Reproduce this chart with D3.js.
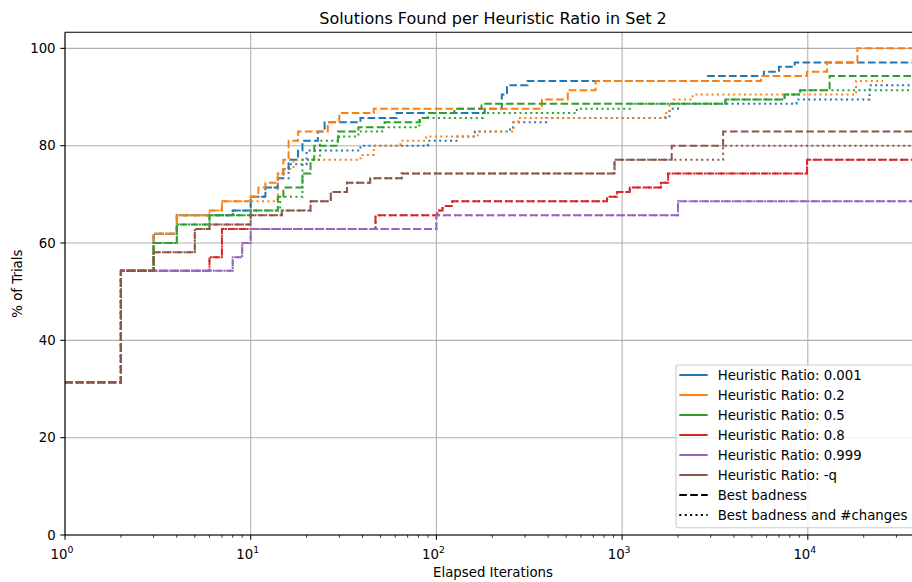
<!DOCTYPE html>
<html>
<head>
<meta charset="utf-8">
<script src="https://cdn.jsdelivr.net/npm/d3@7"></script>
<style>
  html, body { margin: 0; padding: 0; background: #fff; }
  svg { display: block; font-family: "DejaVu Sans", sans-serif; }
</style>
</head>
<body>
<svg id="chart" width="912" height="582"></svg>
<script>
// Heuristic ratios and their colours
const ratioLabels = ["0.001", "0.2", "0.5", "0.8", "0.999", "-q"];
const ratioColors = ["#1f77b4", "#ff7f0e", "#2ca02c", "#d62728", "#9467bd", "#8c564b"];

// Cumulative % of trials solved vs elapsed iterations: [iteration, percent].
// The last entry of each run is where its trace ends.
// "Best badness" runs
const badness_0001 = [[1,31.4],[2,54.3],[3,61.9],[4,65.7],[8,66.7],[10,69.5],[12,71.4],[14,73.3],[15,75.2],[16,77.1],[18,79.0],[19,81.0],[23,82.9],[25,84.8],[39,85.7],[61,86.7],[182,87.6],[225,90.5],[240,92.4],[310,93.3],[2900,94.3],[5800,95.2],[7000,96.2],[8500,97.1],[40700,97.1]];
const badness_02   = [[1,31.4],[2,54.3],[3,61.9],[4,65.7],[6,66.7],[7,68.6],[10,69.5],[11,71.4],[12,72.4],[14,74.3],[15,77.1],[16,81.0],[18,82.9],[26,84.8],[30,86.7],[46,87.6],[370,89.5],[510,91.4],[720,93.3],[5600,94.3],[9900,95.2],[12700,97.1],[18500,100],[40700,100]];
const badness_05   = [[1,31.4],[2,54.3],[3,60.0],[4,63.8],[6,65.7],[10,66.7],[14,69.5],[15,71.4],[19,74.3],[21,77.1],[22,80.0],[29.5,82.9],[38,83.8],[52.6,84.8],[81.5,85.7],[90,86.7],[125,87.6],[175,88.6],[3600,89.5],[7500,90.5],[9100,91.4],[13100,94.3],[40700,94.3]];
const badness_08   = [[1,31.4],[2,54.3],[6,57.1],[7,62.9],[47,65.7],[101,66.7],[108,67.6],[122,68.6],[830,69.5],[940,70.5],[1100,71.4],[1620,72.4],[1770,74.3],[9900,77.1],[40700,77.1]];
const badness_0999 = [[1,31.4],[2,54.3],[8,57.1],[9,60.0],[10,62.9],[100,65.7],[2000,68.6],[40700,68.6]];
const badness_q    = [[1,31.4],[2,54.3],[3,58.1],[5,62.9],[6,63.8],[10,65.7],[14.7,66.7],[21,68.6],[27,70.5],[33,72.4],[44,73.3],[65,74.3],[910,77.1],[1850,80.0],[3500,82.9],[40700,82.9]];

// "Best badness and #changes" runs
const changes_0001 = [[1,31.4],[2,54.3],[3,61.9],[4,65.7],[8,66.7],[10,69.5],[12,71.4],[14,73.3],[16,76.2],[20,79.0],[39,80.0],[90,81.0],[130,81.9],[161,82.9],[249,83.8],[260,84.8],[390,85.7],[1800,87.6],[2000,88.6],[8700,89.5],[21500,92.4],[40700,92.4]];
const changes_02   = [[1,31.4],[2,54.3],[3,61.9],[4,65.7],[6,66.7],[7,68.6],[14,74.3],[15,75.2],[17,77.1],[39,78.1],[46,80.0],[64,81.0],[88,81.9],[167,82.9],[260,84.8],[275,85.7],[1700,86.7],[1800,88.6],[1900,89.5],[2400,90.5],[18200,93.3],[25400,93.3]];
const changes_05   = [[1,31.4],[2,54.3],[3,60.0],[4,63.8],[6,65.7],[10,66.7],[14.4,69.5],[19,77.1],[23.6,81.0],[30,81.9],[38,82.9],[51,83.8],[81,85.7],[178,86.7],[570,87.6],[1100,88.6],[3600,89.5],[7500,90.5],[9100,91.4],[40700,91.4]];
const changes_08   = [[1,31.4],[2,54.3],[6,57.1],[7,62.9],[47,65.7],[101,66.7],[108,67.6],[122,68.6],[830,69.5],[940,70.5],[1100,71.4],[1620,72.4],[1770,74.3],[9900,77.1],[40700,77.1]];
const changes_0999 = [[1,31.4],[2,54.3],[8,57.1],[9,60.0],[10,62.9],[100,65.7],[2000,68.6],[40700,68.6]];
const changes_q    = [[1,31.4],[2,54.3],[3,58.1],[5,62.9],[6,63.8],[10,65.7],[14.7,66.7],[21,68.6],[27,70.5],[33,72.4],[44,73.3],[65,74.3],[910,77.1],[3500,80.0],[40700,80.0]];

const badnessRuns = [badness_0001, badness_02, badness_05, badness_08, badness_0999, badness_q];
const changesRuns = [changes_0001, changes_02, changes_05, changes_08, changes_0999, changes_q];

// Axis ticks
const yTicks = [0, 20, 40, 60, 80, 100];
const xTicks = [1, 10, 100, 1000, 10000];
const xTickExponents = ["0", "1", "2", "3", "4"];

const xMaxIter = 40700;
const yMaxPct = 103.3;

// Layout
const svg = d3.select("#chart");
const plot = { left: 65, right: 921, top: 32.3, bottom: 535 };

const x = d3.scaleLog().domain([1, xMaxIter]).range([plot.left, plot.right]);
const y = d3.scaleLinear().domain([0, yMaxPct]).range([plot.bottom, plot.top]);

svg.append("rect").attr("width", 912).attr("height", 582).attr("fill", "#fff");

svg.append("defs").append("clipPath").attr("id", "plotClip")
  .append("rect")
  .attr("x", plot.left).attr("y", plot.top)
  .attr("width", plot.right - plot.left).attr("height", plot.bottom - plot.top);

// Grid
const grid = svg.append("g").attr("stroke", "#b0b0b0").attr("stroke-width", 1.07);
xTicks.forEach(t => {
  grid.append("line").attr("x1", x(t)).attr("x2", x(t)).attr("y1", plot.top).attr("y2", plot.bottom);
});
yTicks.forEach(t => {
  grid.append("line").attr("x1", plot.left).attr("x2", plot.right).attr("y1", y(t)).attr("y2", y(t));
});

// Step lines
const line = d3.line().x(d => x(d[0])).y(d => y(d[1])).curve(d3.curveStepAfter);

const lines = svg.append("g").attr("clip-path", "url(#plotClip)").attr("fill", "none");
const DASH = "7.6,3.3";
const DOT = "2,3.4";
ratioLabels.forEach((r, i) => {
  lines.append("path").attr("d", line(badnessRuns[i]))
    .attr("stroke", ratioColors[i]).attr("stroke-width", 2).attr("stroke-dasharray", DASH);
  lines.append("path").attr("d", line(changesRuns[i]))
    .attr("stroke", ratioColors[i]).attr("stroke-width", 2).attr("stroke-dasharray", DOT);
});

// Spines
const spines = svg.append("g").attr("stroke", "#000").attr("stroke-width", 1.07);
spines.append("line").attr("x1", plot.left).attr("x2", plot.left).attr("y1", plot.top).attr("y2", plot.bottom);
spines.append("line").attr("x1", plot.left).attr("x2", plot.right).attr("y1", plot.top).attr("y2", plot.top);
spines.append("line").attr("x1", plot.left).attr("x2", plot.right).attr("y1", plot.bottom).attr("y2", plot.bottom);
spines.append("line").attr("x1", plot.right).attr("x2", plot.right).attr("y1", plot.top).attr("y2", plot.bottom);

// Y ticks and labels
const yAxis = svg.append("g");
yTicks.forEach(t => {
  yAxis.append("line").attr("x1", plot.left - 4.7).attr("x2", plot.left)
    .attr("y1", y(t)).attr("y2", y(t)).attr("stroke", "#000").attr("stroke-width", 1.07);
  yAxis.append("text").attr("x", plot.left - 9.4).attr("y", y(t)).attr("dy", "0.35em")
    .attr("text-anchor", "end").attr("font-size", 13.3).attr("fill", "#000").text(t);
});

// X ticks (log, with minor ticks) and labels
const xAxis = svg.append("g");
for (let d = 0; d <= 4; d++) {
  for (let m = 2; m <= 9; m++) {
    const v = m * Math.pow(10, d);
    if (v > xMaxIter) break;
    xAxis.append("line").attr("x1", x(v)).attr("x2", x(v))
      .attr("y1", plot.bottom).attr("y2", plot.bottom + 2.7)
      .attr("stroke", "#000").attr("stroke-width", 0.8);
  }
}
xTicks.forEach((t, i) => {
  xAxis.append("line").attr("x1", x(t)).attr("x2", x(t))
    .attr("y1", plot.bottom).attr("y2", plot.bottom + 4.7)
    .attr("stroke", "#000").attr("stroke-width", 1.07);
  const lbl = xAxis.append("text").attr("x", x(t) - 3).attr("y", plot.bottom + 23.5)
    .attr("text-anchor", "middle").attr("font-size", 13.3).attr("fill", "#000");
  lbl.append("tspan").text("10");
  lbl.append("tspan").attr("font-size", 9.3).attr("dy", -5.5).text(xTickExponents[i]);
});

// Axis titles
svg.append("text").attr("x", (plot.left + plot.right) / 2).attr("y", 577)
  .attr("text-anchor", "middle").attr("font-size", 13.3).attr("fill", "#000")
  .text("Elapsed Iterations");
svg.append("text").attr("transform", `translate(21.5,${(plot.top + plot.bottom) / 2}) rotate(-90)`)
  .attr("text-anchor", "middle").attr("font-size", 13.3).attr("fill", "#000")
  .text("% of Trials");
svg.append("text").attr("x", (plot.left + plot.right) / 2).attr("y", 24.3)
  .attr("text-anchor", "middle").attr("font-size", 16).attr("fill", "#000")
  .text("Solutions Found per Heuristic Ratio in Set 2");

// Legend
const legendLabels = ratioLabels.map(r => "Heuristic Ratio: " + r)
  .concat(["Best badness", "Best badness and #changes"]);
const legend = svg.append("g");
legend.append("rect").attr("x", 676).attr("y", 365).attr("width", 238).attr("height", 162.7)
  .attr("rx", 2.5).attr("fill", "#fff").attr("fill-opacity", 0.8)
  .attr("stroke", "#cccccc").attr("stroke-width", 1.07);
legendLabels.forEach((txt, i) => {
  const ly = 375 + i * 20;
  const h = legend.append("line").attr("x1", 679.3).attr("x2", 707.7).attr("y1", ly).attr("y2", ly)
    .attr("stroke-width", 2);
  if (i < 6) h.attr("stroke", ratioColors[i]);
  else h.attr("stroke", "#000").attr("stroke-dasharray", i === 6 ? DASH : DOT);
  legend.append("text").attr("x", 717.7).attr("y", ly + 4.6)
    .attr("font-size", 13.3).attr("fill", "#000").text(txt);
});
</script>
</body>
</html>
